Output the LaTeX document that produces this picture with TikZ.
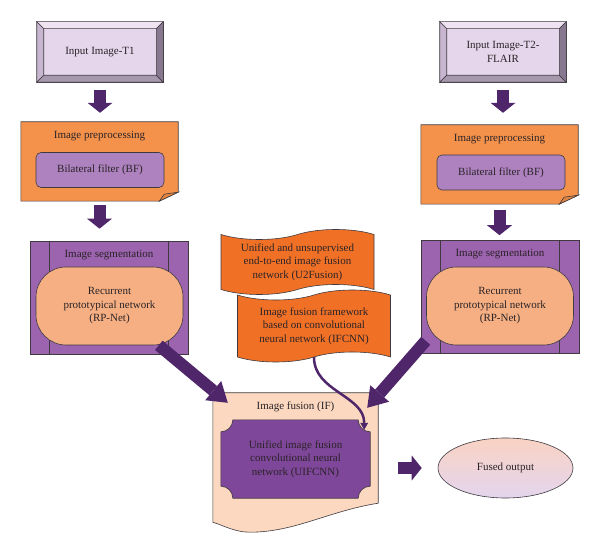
\documentclass[tikz,border=0pt]{standalone}
\usepackage{fontspec}
\setmainfont{Liberation Serif}
\usetikzlibrary{arrows.meta,shapes.geometric,shapes.symbols}
\definecolor{inktext}{HTML}{2A2328}
\definecolor{edgegray}{HTML}{3E3A40}
\definecolor{bevface}{HTML}{E6D6EB}
\definecolor{bevtop}{HTML}{EFE3F1}
\definecolor{bevleft}{HTML}{C8B5CF}
\definecolor{bevbottom}{HTML}{A797AD}
\definecolor{bevright}{HTML}{877890}
\definecolor{preorange}{HTML}{F4924B}
\definecolor{foldorange}{HTML}{E28440}
\definecolor{bfpurple}{HTML}{AE82BF}
\definecolor{segpurple}{HTML}{9C63AE}
\definecolor{rppeach}{HTML}{F5AF82}
\definecolor{waveorange}{HTML}{F07126}
\definecolor{fusepeach}{HTML}{FBD8BF}
\definecolor{uifpurple}{HTML}{7F479A}
\definecolor{arrowpurple}{HTML}{4F266A}
\definecolor{outpeach}{HTML}{F9D3C3}
\definecolor{outlav}{HTML}{E4D5EE}
\pgfdeclarelayer{back}
\pgfsetlayers{back,main}

\begin{document}
\begin{tikzpicture}[x=1pt, y=1pt,
    font=\fontsize{11pt}{13.5pt}\selectfont,
    every node/.style={align=center, inner sep=0pt, text=inktext},
    outline/.style={draw=edgegray, line width=.6pt},
    bevelbox/.style={outline, fill=bevface, minimum width=126pt, minimum height=60pt},
    filterbox/.style={outline, fill=bfpurple, rounded corners=5pt, minimum width=128pt, minimum height=35pt},
    segbox/.style={outline, fill=segpurple, minimum width=158pt, minimum height=113pt},
    rpbox/.style={outline, fill=rppeach, rounded corners=30pt, minimum width=147pt, minimum height=78pt},
    wavebox/.style={outline, fill=waveorange, tape, tape bend top=in and out, tape bend bottom=in and out, tape bend height=10pt, minimum width=153pt},
    blockarrow/.style={draw=arrowpurple, line width=12pt, -{Triangle[width=25pt, length=10pt, line width=0pt]}},
    diagarrow/.style={draw=arrowpurple, line width=12pt, -{Triangle[width=25pt, length=19pt, line width=0pt]}},
    thinarrow/.style={draw=arrowpurple, line width=2.5pt, -{Triangle[width=8pt, length=7pt, line width=0pt]}}]
\useasboundingbox (0,0) rectangle (600,-553);

% input images
\node[bevelbox] (in1) at (100,-52) {Input Image-T1};
\node[bevelbox] (in2) at (503,-52) {Input Image-T2-\\FLAIR};
\foreach \n in {in1,in2}{
  \filldraw[outline, fill=bevtop]    (\n.north west) -- (\n.north east) -- ++(-7,-7) -- ([shift={(7,-7)}]\n.north west) -- cycle;
  \filldraw[outline, fill=bevleft]   (\n.north west) -- ++(7,-7) -- ([shift={(7,7)}]\n.south west) -- (\n.south west) -- cycle;
  \filldraw[outline, fill=bevbottom] (\n.south west) -- ++(7,7) -- ([shift={(-7,7)}]\n.south east) -- (\n.south east) -- cycle;
  \filldraw[outline, fill=bevright]  (\n.south east) -- ++(-7,7) -- ([shift={(-7,-7)}]\n.north east) -- (\n.north east) -- cycle;
}

% preprocessing
\node[minimum width=157pt, minimum height=79pt] (pre1) at (99.5,-161.5) {};
\node[minimum width=157pt, minimum height=79pt] (pre2) at (499.5,-164.5) {};
\foreach \n in {pre1,pre2}{
  \filldraw[outline, fill=preorange] (\n.north west) -- (\n.north east) -- ([yshift=9pt]\n.south east)
      -- ([xshift=-19pt]\n.south east) -- (\n.south west) -- cycle;
  \filldraw[outline, fill=foldorange] ([yshift=9pt]\n.south east) -- ([shift={(-14,7)}]\n.south east)
      -- ([xshift=-19pt]\n.south east) -- cycle;
}
\node (pre1t) at ([yshift=-14pt]pre1.north) {Image preprocessing};
\node (pre2t) at ([yshift=-14pt]pre2.north) {Image preprocessing};
\node[filterbox] (bf1) at (100,-170)   {Bilateral filter (BF)};
\node[filterbox] (bf2) at (501,-172.5) {Bilateral filter (BF)};

% segmentation
\node[segbox] (seg1) at (109,-297.5) {};
\node[segbox] (seg2) at (500,-297)   {};
\foreach \n in {seg1,seg2}
  \draw[outline] ([xshift=20pt]\n.north west) -- ([xshift=20pt]\n.south west)
                 ([xshift=-20pt]\n.north east) -- ([xshift=-20pt]\n.south east);
\node (seg1t) at ([yshift=-14pt]seg1.north) {Image segmentation};
\node (seg2t) at ([yshift=-14pt]seg2.north) {Image segmentation};
\node[rpbox] (rp1) at (109.5,-306) {Recurrent\\prototypical network\\(RP-Net)};
\node[rpbox] (rp2) at (500,-306)   {Recurrent\\prototypical network\\(RP-Net)};

% fusion methods
\node[wavebox, minimum height=65pt] (u2f) at (297.5,-262) {Unified and unsupervised\\end-to-end image fusion\\network (U2Fusion)};
\node[wavebox, minimum height=72pt] (ifc) at (314,-326) {Image fusion framework\\based on convolutional\\neural network (IFCNN)};

% image fusion
\node[minimum width=165pt, minimum height=139pt] (fuse) at (295.5,-462.5) {};
\node (fuset) at ([yshift=-14pt]fuse.north) {Image fusion (IF)};
\node[minimum width=149pt, minimum height=78pt] (uif) at (295.5,-459) {Unified image fusion\\convolutional neural\\network (UIFCNN)};
\begin{pgfonlayer}{back}
\filldraw[outline, fill=fusepeach] (fuse.north west) -- (fuse.north east) -- ([yshift=29pt]fuse.south east)
    .. controls +(-50,-8) and +(45,0) .. ([xshift=37pt]fuse.south west)
    .. controls +(-15,0) and +(10,-3) .. ([yshift=10pt]fuse.south west) -- cycle;
\filldraw[outline, fill=uifpurple] ([xshift=12pt]uif.north west) -- ([xshift=-12pt]uif.north east)
    arc[start angle=180, end angle=270, radius=12pt] -- ([yshift=12pt]uif.south east)
    arc[start angle=90, end angle=180, radius=12pt] -- ([xshift=12pt]uif.south west)
    arc[start angle=0, end angle=90, radius=12pt] -- ([yshift=-12pt]uif.north west)
    arc[start angle=270, end angle=360, radius=12pt] -- cycle;
\end{pgfonlayer}

% output
\node[outline, ellipse, top color=outpeach, bottom color=outlav, minimum width=135pt, minimum height=60pt] (fused) at (505.5,-468) {Fused output};

% connectors
\draw[blockarrow, shorten <=8pt, shorten >=9pt]  (in1.south) -- (in1.south |- pre1.north);
\draw[blockarrow, shorten <=8pt, shorten >=12pt] (in2.south) -- (in2.south |- pre2.north);
\draw[blockarrow, shorten <=4pt, shorten >=12pt] (pre1.south) -- (pre1.south |- seg1.north);
\draw[blockarrow, shorten <=6pt, shorten >=5pt]  (pre2.south) -- (pre2.south |- seg2.north);
\draw[diagarrow] ([shift={(-29.5,9)}]seg1.south east) -- ([shift={(15,-10)}]fuse.north west);
\draw[diagarrow] ([shift={(5,13)}]seg2.south west) -- ([shift={(-11,-15)}]fuse.north east);
\draw[thinarrow] (ifc.south) to[out=-90, in=90] ([shift={(-6,-10)}]uif.north east);
\draw[blockarrow, shorten <=20pt, shorten >=16pt] (fuse.east |- fused.west) -- (fused.west);
\end{tikzpicture}
\end{document}
